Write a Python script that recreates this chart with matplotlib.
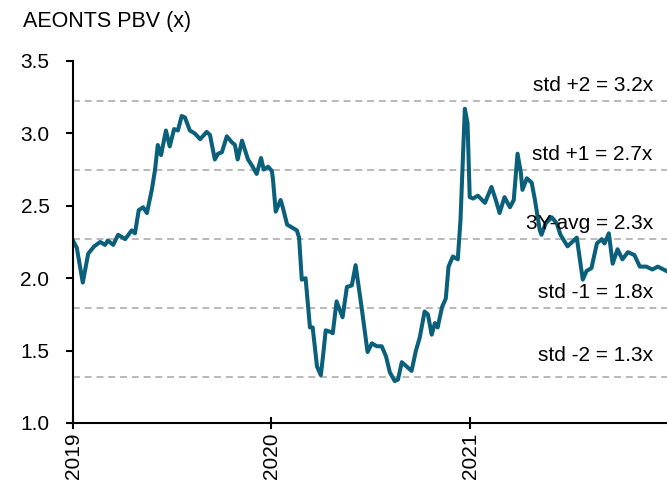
import matplotlib
matplotlib.use('Agg')
import matplotlib.pyplot as plt
import matplotlib.dates as mdates
import pandas as pd

plt.rcParams['font.family'] = ['Liberation Sans', 'DejaVu Sans']
plt.rcParams['font.size'] = 15

# PBV series
dates = [
    '2019-01-01', '2019-01-08', '2019-01-19', '2019-01-29', '2019-02-09', '2019-02-20',
    '2019-03-01', '2019-03-06', '2019-03-16', '2019-03-25', '2019-04-07', '2019-04-19',
    '2019-04-25', '2019-05-02', '2019-05-10', '2019-05-17', '2019-05-26', '2019-06-01',
    '2019-06-06', '2019-06-12', '2019-06-21', '2019-06-28', '2019-07-06', '2019-07-13',
    '2019-07-20', '2019-07-26', '2019-08-04', '2019-08-13', '2019-08-23', '2019-09-04',
    '2019-09-10', '2019-09-19', '2019-09-25', '2019-10-02', '2019-10-11', '2019-10-20',
    '2019-10-26', '2019-10-31', '2019-11-08', '2019-11-19', '2019-11-26', '2019-12-05',
    '2019-12-13', '2019-12-18', '2019-12-26', '2020-01-02', '2020-01-04', '2020-01-09',
    '2020-01-18', '2020-01-22', '2020-01-30', '2020-02-08', '2020-02-17', '2020-02-21',
    '2020-02-26', '2020-03-04', '2020-03-12', '2020-03-17', '2020-03-25', '2020-04-01',
    '2020-04-05', '2020-04-10', '2020-04-18', '2020-04-23', '2020-04-30', '2020-05-06',
    '2020-05-11', '2020-05-19', '2020-05-28', '2020-06-04', '2020-06-15', '2020-06-26',
    '2020-07-04', '2020-07-13', '2020-07-22', '2020-07-30', '2020-08-06', '2020-08-15',
    '2020-08-21', '2020-08-28', '2020-09-06', '2020-09-15', '2020-09-23', '2020-09-30',
    '2020-10-09', '2020-10-15', '2020-10-22', '2020-10-28', '2020-11-02', '2020-11-10',
    '2020-11-17', '2020-11-22', '2020-11-30', '2020-12-09', '2020-12-14', '2020-12-22',
    '2020-12-27', '2020-12-31', '2021-01-06', '2021-01-15', '2021-01-28', '2021-02-09',
    '2021-02-17', '2021-02-24', '2021-03-05', '2021-03-15', '2021-03-22', '2021-03-29',
    '2021-04-04', '2021-04-07', '2021-04-15', '2021-04-24', '2021-04-30', '2021-05-09',
    '2021-05-12', '2021-05-20', '2021-05-31', '2021-06-09', '2021-06-16', '2021-06-29',
    '2021-07-16', '2021-07-27', '2021-08-03', '2021-08-12', '2021-08-22', '2021-08-31',
    '2021-09-05', '2021-09-13', '2021-09-20', '2021-09-29', '2021-10-08', '2021-10-18',
    '2021-10-30', '2021-11-09', '2021-11-21', '2021-12-02', '2021-12-12', '2021-12-28',
]
pbv = [
    2.26, 2.21, 1.97, 2.17, 2.22, 2.25,
    2.23, 2.26, 2.23, 2.30, 2.27, 2.33,
    2.31, 2.47, 2.49, 2.45, 2.61, 2.75,
    2.92, 2.85, 3.02, 2.91, 3.03, 3.02,
    3.12, 3.11, 3.02, 3.00, 2.96, 3.01,
    2.99, 2.82, 2.86, 2.87, 2.98, 2.94,
    2.92, 2.82, 2.95, 2.82, 2.78, 2.72,
    2.83, 2.75, 2.77, 2.74, 2.68, 2.46,
    2.54, 2.49, 2.37, 2.35, 2.33, 2.28,
    1.99, 2.00, 1.66, 1.66, 1.39, 1.33,
    1.46, 1.64, 1.63, 1.62, 1.84, 1.78,
    1.73, 1.94, 1.95, 2.09, 1.80, 1.49,
    1.55, 1.53, 1.53, 1.46, 1.35, 1.29,
    1.30, 1.42, 1.39, 1.36, 1.50, 1.59,
    1.77, 1.75, 1.61, 1.69, 1.66, 1.80,
    1.86, 2.08, 2.15, 2.13, 2.40, 3.17,
    3.07, 2.56, 2.55, 2.57, 2.52, 2.63,
    2.54, 2.45, 2.56, 2.49, 2.54, 2.86,
    2.73, 2.61, 2.69, 2.66, 2.54, 2.33,
    2.30, 2.38, 2.42, 2.38, 2.30, 2.22,
    2.28, 1.99, 2.05, 2.07, 2.24, 2.27,
    2.24, 2.31, 2.10, 2.20, 2.13, 2.18,
    2.16, 2.08, 2.08, 2.06, 2.08, 2.05,
]

# reference bands
band_vals = [3.223, 2.748, 2.272, 1.797, 1.321]
band_labels = ['std +2 = 3.2x', 'std +1 = 2.7x', '3Y-avg = 2.3x', 'std -1 = 1.8x', 'std -2 = 1.3x']
label_y = [3.265, 2.79, 2.31, 1.835, 1.40]

x = pd.to_datetime(dates)

fig = plt.figure(figsize=(6.67, 4.83), dpi=100)
ax = fig.add_axes([73/667, 60/483, 594/667, 362/483])

for v in band_vals:
    ax.axhline(v, color='#a6a6a6', linewidth=1.1, dashes=(4.5, 3.2), zorder=1)

ax.plot(x, pbv, color='#0a5f7a', linewidth=2.9, solid_joinstyle='round', zorder=2)

for ly, lab in zip(label_y, band_labels):
    ax.text(pd.Timestamp('2021-12-03'), ly, lab, ha='right', va='bottom', fontsize=15, zorder=3)

ax.set_ylim(1.0, 3.5)
ax.set_yticks([1.0, 1.5, 2.0, 2.5, 3.0, 3.5])
ax.yaxis.set_major_formatter(matplotlib.ticker.FormatStrFormatter('%.1f'))
ax.set_xlim(pd.Timestamp('2019-01-01'), pd.Timestamp('2021-12-29'))
ax.xaxis.set_major_locator(mdates.YearLocator())
ax.xaxis.set_major_formatter(mdates.DateFormatter('%Y'))
plt.setp(ax.get_xticklabels(), rotation=90, va='top', ha='center')

for s in ['top', 'right']:
    ax.spines[s].set_visible(False)
for s in ['left', 'bottom']:
    ax.spines[s].set_linewidth(1.5)
ax.tick_params(axis='y', direction='out', length=5, width=1.5, pad=12, labelsize=15)
ax.tick_params(axis='x', direction='inout', length=8, width=1.5, pad=3, labelsize=15)

fig.text(23/667, 1 - 22/483, 'AEONTS PBV (x)', ha='left', va='center', fontsize=15.5)

plt.savefig('out.png', dpi=100)
